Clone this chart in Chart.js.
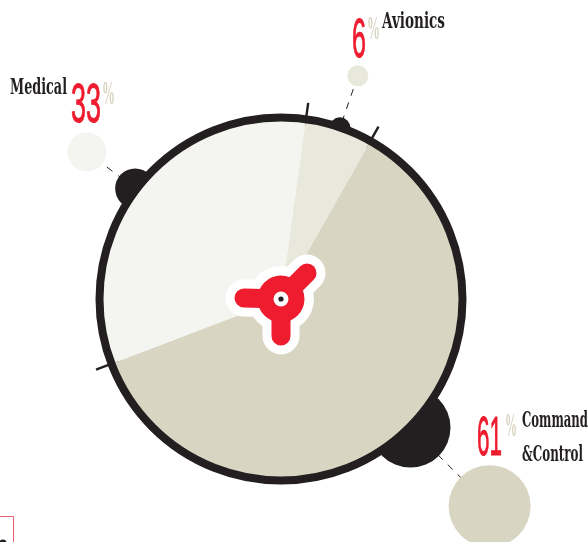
<!DOCTYPE html>
<html><head><meta charset="utf-8">
<style>html,body{margin:0;padding:0;background:#fff;overflow:hidden}canvas{display:block}</style>
<script src="https://cdn.jsdelivr.net/npm/chart.js@4"></script>
</head><body><canvas id="c" width="588" height="542"></canvas>
<script>
const categories = ["Command &Control", "Medical", "Avionics"];
const labelLines = [["Command", "&Control"], ["Medical"], ["Avionics"]];
const values = [61, 33, 6];
const sliceColors = ["#d8d5c2", "#f4f4f0", "#e8e8dc"];

const INK = "#231f20", RED = "#ee1c2e", PCT = "#d8d5c2";
// decoration per slice (same order as categories)
const layout = [
  {nudge:-4.5, bump:40, bumpAt:182.5, bub:41, bubAt:294, dashOff:4,
   num:[477,455,25], pct:[505,436,12], text:[[522,427,66],[522,461,61]]},
  {nudge:-1.35, bump:20, bumpAt:183, bub:19.5, bubAt:243.4, dashOff:3,
   num:[71,122,30], pct:[102,104,13], text:[[10,94,57]]},
  {nudge:0.3, bump:10.5, bumpAt:181, bub:10.5, bubAt:236, dashOff:0,
   num:[352,57,14], pct:[367,39,13], text:[[382,28,63]]}
];

function put(ctx, s, x, y, w, font, color, outline){
  ctx.font = font; ctx.fillStyle = color; ctx.textAlign = "left"; ctx.textBaseline = "alphabetic";
  ctx.fillText(s, x, y, w);
  if (outline) { ctx.strokeStyle = color; ctx.lineWidth = outline; ctx.lineCap = "butt"; ctx.strokeText(s, x, y, w); }
}
function polar(arc, deg, r){
  const a = deg * Math.PI / 180;
  return [arc.x + Math.cos(a) * r, arc.y + Math.sin(a) * r];
}
function midDeg(arc){ return (arc.startAngle + arc.endAngle) / 2 * 180 / Math.PI; }

const decor = {
  id: "decor",
  beforeDatasetsDraw(chart){
    const ctx = chart.ctx, arcs = chart.getDatasetMeta(0).data;
    ctx.save();
    arcs.forEach((arc, i) => {
      const L = layout[i], d = midDeg(arc) + L.nudge;
      const b = polar(arc, d, L.bumpAt), o = polar(arc, d, L.bubAt);
      // leader
      ctx.strokeStyle = INK; ctx.lineWidth = 1; ctx.setLineDash([7, 7]); ctx.lineDashOffset = L.dashOff;
      ctx.beginPath(); ctx.moveTo(o[0], o[1]); ctx.lineTo(b[0], b[1]); ctx.stroke();
      ctx.setLineDash([]);
      // outer bubble
      ctx.fillStyle = sliceColors[i];
      ctx.beginPath(); ctx.arc(o[0], o[1], L.bub, 0, 7); ctx.fill();
      // bump behind the ring
      ctx.fillStyle = INK;
      ctx.beginPath(); ctx.arc(b[0], b[1], L.bump, 0, 7); ctx.fill();
      // tick at slice start
      const s = arc.startAngle * 180 / Math.PI;
      const p = polar(arc, s, arc.outerRadius - 4), q = polar(arc, s, 198);
      ctx.strokeStyle = INK; ctx.lineWidth = 2.4;
      ctx.beginPath(); ctx.moveTo(p[0], p[1]); ctx.lineTo(q[0], q[1]); ctx.stroke();
    });
    ctx.restore();
  },
  afterDatasetsDraw(chart){
    const ctx = chart.ctx, arcs = chart.getDatasetMeta(0).data, c = arcs[0];
    ctx.save();
    // ring
    ctx.strokeStyle = INK; ctx.lineWidth = 8;
    ctx.beginPath(); ctx.arc(c.x, c.y, c.outerRadius + 3.5, 0, 7); ctx.stroke();
    // hub
    const arms = [[-37, -1], [0, 37], [26, -26]];
    const hub = (w, col, r) => {
      ctx.strokeStyle = col; ctx.fillStyle = col; ctx.lineWidth = w; ctx.lineCap = "round";
      arms.forEach(a => { ctx.beginPath(); ctx.moveTo(c.x, c.y); ctx.lineTo(c.x + a[0], c.y + a[1]); ctx.stroke(); });
      ctx.beginPath(); ctx.arc(c.x, c.y, r, 0, 7); ctx.fill();
    };
    hub(37, "#fff", 33);
    hub(19, RED, 23.5);
    ctx.fillStyle = "#fff"; ctx.beginPath(); ctx.arc(c.x, c.y, 7.5, 0, 7); ctx.fill();
    ctx.fillStyle = INK; ctx.beginPath(); ctx.arc(c.x, c.y, 2.6, 0, 7); ctx.fill();
    // texts
    values.forEach((v, i) => {
      const L = layout[i];
      put(ctx, String(v), L.num[0], L.num[1], L.num[2], "56px 'Liberation Sans Narrow','Liberation Sans'", RED, 1);
      put(ctx, "%", L.pct[0], L.pct[1], L.pct[2], "bold 33px 'Liberation Serif'", PCT);
      labelLines[i].forEach((t, k) => {
        const T = L.text[k];
        put(ctx, t, T[0], T[1], T[2], "bold 22px 'DejaVu Serif Condensed','DejaVu Serif'", INK);
      });
    });
    // clipped frame fragment at lower-left corner
    ctx.strokeStyle = "#e8606e"; ctx.lineWidth = 1; ctx.lineCap = "butt";
    ctx.beginPath(); ctx.moveTo(0, 516.5); ctx.lineTo(13.5, 516.5); ctx.lineTo(13.5, 542); ctx.stroke();
    ctx.fillStyle = INK; ctx.beginPath(); ctx.arc(3, 543, 3.5, 0, 7); ctx.fill();
    ctx.restore();
  }
};

new Chart(document.getElementById("c"), {
  type: "pie",
  data: { labels: categories, datasets: [{ data: values, backgroundColor: sliceColors, borderWidth: 0, hoverOffset: 0 }] },
  options: {
    responsive: false, animation: false, rotation: 29.5,
    layout: { padding: { left: 103, right: 129, top: 121, bottom: 65 } },
    plugins: { legend: { display: false }, tooltip: { enabled: false } }
  },
  plugins: [decor]
});
</script></body></html>
